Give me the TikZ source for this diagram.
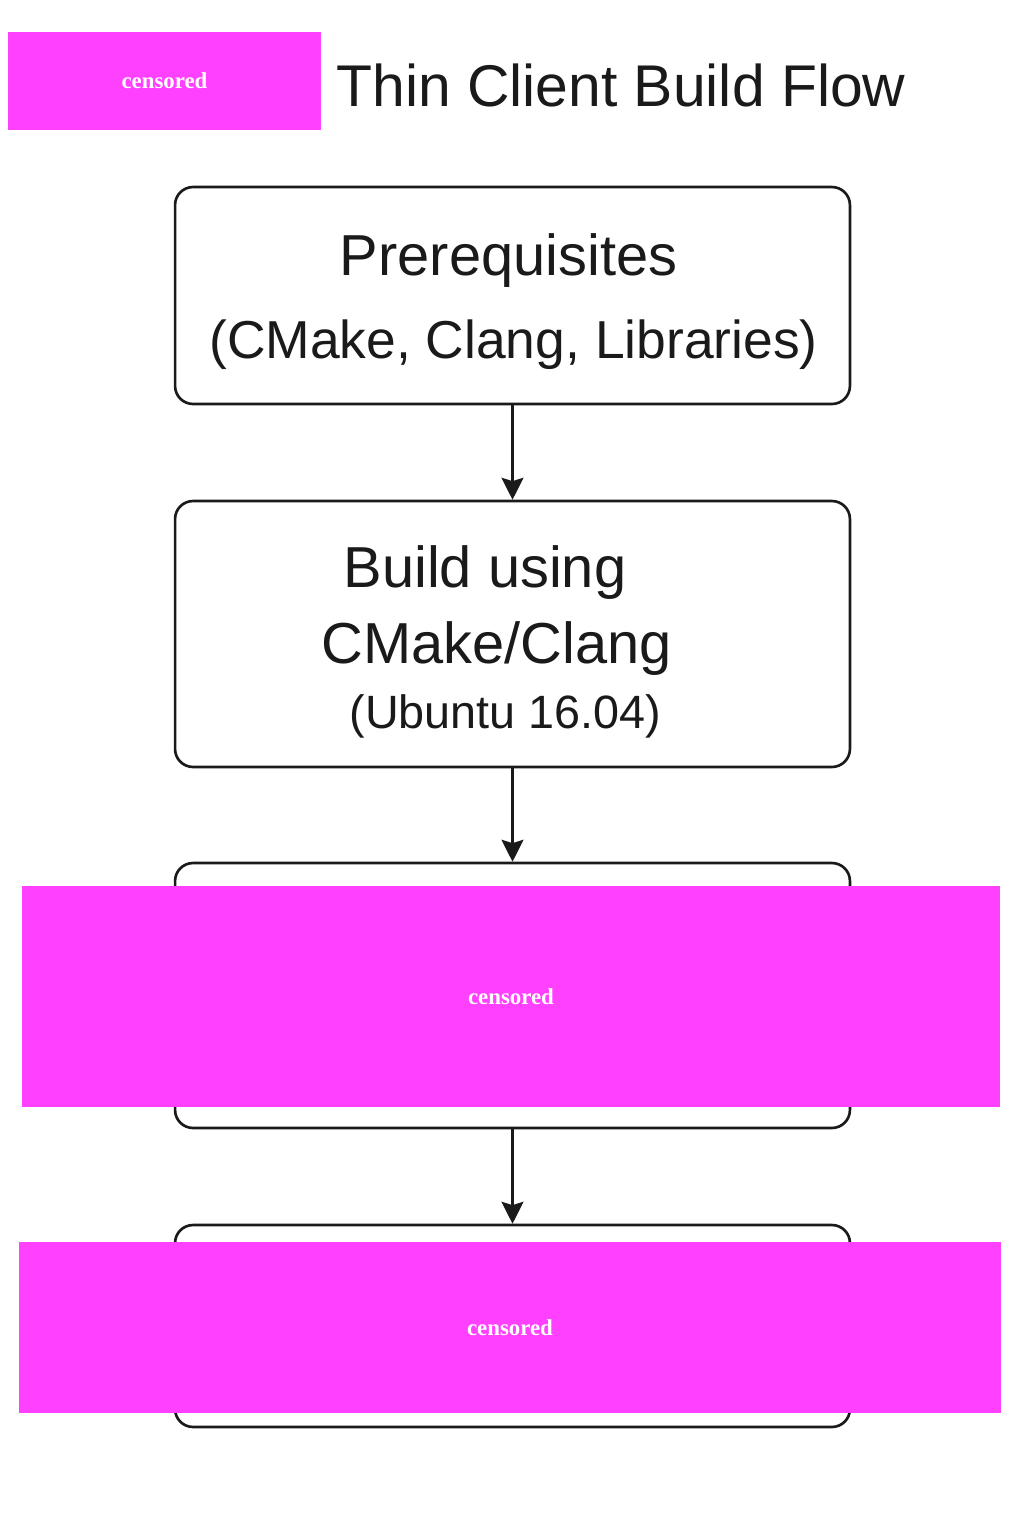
\documentclass[tikz,border=0pt]{standalone}
\usepackage{fontspec}
\setmainfont{Liberation Sans}
\newfontfamily\censorfont{Liberation Serif}
\usetikzlibrary{arrows.meta}
\definecolor{censor}{HTML}{FF40FF}
\definecolor{ink}{HTML}{1A1A1A}
\tikzset{
  flowbox/.style={draw=ink, line width=1.5pt, rounded corners=0.36cm, minimum width=13.5cm, inner sep=0pt},
  flowarrow/.style={draw=ink, line width=1.3pt, -{Stealth[length=4.4mm, width=4.4mm, inset=0.7mm]}},
  censorbox/.style={fill=censor, draw=none, inner sep=0pt, text=white, font=\censorfont\bfseries\fontsize{13}{15}\selectfont},
  txt/.style={anchor=base, inner sep=0pt, text=ink}
}
\begin{document}
\begin{tikzpicture}[x=0.02cm, y=-0.02cm]
\useasboundingbox[fill=white] (0,0) rectangle (1024,1536);
% title
\node[censorbox, minimum width=6.26cm, minimum height=1.96cm] (logo) at (164.5,81) {censored};
\node[txt, anchor=base west, font=\fontsize{33.5}{40}\selectfont] (title) at (336,106) {Thin Client Build Flow};
% boxes
\node[flowbox, minimum height=4.34cm] (pre) at (512.5,295.5) {};
\node[flowbox, minimum height=5.32cm] (build) at (512.5,634) {};
\node[flowbox, minimum height=5.3cm] (third) at (512.5,995.5) {};
\node[flowbox, minimum height=4.04cm] (fourth) at (512.5,1326) {};
% texts
\node[txt, font=\fontsize{32.9}{40}\selectfont] (pre1) at (508.5,275) {Prerequisites};
\node[txt, font=\fontsize{30.4}{36}\selectfont] (pre2) at (513.5,358) {(CMake, Clang, Libraries)};
\node[txt, font=\fontsize{32.9}{40}\selectfont] (build1) at (485,587) {Build using};
\node[txt, font=\fontsize{32.9}{40}\selectfont] (build2) at (496.5,663) {CMake/Clang};
\node[txt, font=\fontsize{26.6}{32}\selectfont] (build3) at (505.5,728) {(Ubuntu 16.04)};
% arrows
\draw[flowarrow] (pre.south) -- (build.north);
\draw[flowarrow] (build.south) -- (third.north);
\draw[flowarrow] (third.south) -- (fourth.north);
% censored
\node[censorbox, minimum width=19.56cm, minimum height=4.42cm] (cens3) at (511,996.5) {censored};
\node[censorbox, minimum width=19.64cm, minimum height=3.42cm] (cens4) at (510,1327.5) {censored};
\end{tikzpicture}
\end{document}
